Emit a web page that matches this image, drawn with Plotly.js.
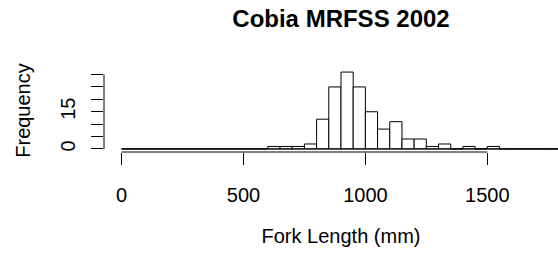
<!DOCTYPE html>
<html>
<head>
<meta charset="utf-8">
<script src="https://cdn.plot.ly/plotly-3.0.1.min.js"></script>
<style>
html, body { margin: 0; padding: 0; overflow: hidden; background: #ffffff; }
#chart { width: 578px; height: 257px; }
</style>
</head>
<body>
<div id="chart"></div>
<script>
// Histogram of Cobia fork lengths (MRFSS 2002), bins of 50 mm
const breaks = [0, 50, 100, 150, 200, 250, 300, 350, 400, 450, 500, 550, 600, 650, 700, 750,
                800, 850, 900, 950, 1000, 1050, 1100, 1150, 1200, 1250, 1300, 1350, 1400,
                1450, 1500, 1550, 1600, 1650, 1700, 1750, 1800];
const counts = [0, 0, 0, 0, 0, 0, 0, 0, 0, 0, 0, 0, 1, 1, 1, 2,
                12, 25, 31, 25, 15, 8, 11, 4, 4, 1, 2, 0, 1,
                0, 1, 0, 0, 0, 0, 0];
const xTickVals = [0, 500, 1000, 1500];
const xTickText = ["0", "500", "1000", "1500"];
const yTickVals = [0, 5, 10, 15, 20, 25, 30];
const yTickText = ["0", "", "", "15", "", "", ""];
const titleText = "Cobia MRFSS 2002";
const xTitle = "Fork Length (mm)";
const yTitle = "Frequency";

const mids = [], widths = [];
for (let i = 0; i < counts.length; i++) {
  mids.push((breaks[i] + breaks[i + 1]) / 2);
  widths.push(breaks[i + 1] - breaks[i]);
}
const xMin = breaks[0], xMax = breaks[breaks.length - 1];
const yMax = Math.max(...counts);
const xPad = 0.04 * (xMax - xMin), yPad = 0.04 * yMax;

const font = { family: "Liberation Sans, Arial, sans-serif", size: 20, color: "#000000" };

const traces = [
  {
    type: "scatter", mode: "lines",
    x: [xMin, xMax], y: [0, 0],
    line: { color: "#000000", width: 1 },
    hoverinfo: "skip", showlegend: false
  },
  {
    type: "bar",
    x: mids, y: counts, width: widths,
    marker: { color: "#ffffff", line: { color: "#000000", width: 1 } },
    showlegend: false
  }
];

const layout = {
  width: 578, height: 257,
  margin: { l: 104, r: 0, t: 69, b: 105, pad: 0 },
  paper_bgcolor: "#ffffff", plot_bgcolor: "#ffffff",
  font: font,
  showlegend: false,
  bargap: 0,
  title: {
    text: titleText,
    font: { family: font.family, size: 24, color: "#000000", weight: "bold" },
    xref: "paper", x: 0.5, xanchor: "center",
    yref: "container", y: 1 - 19 / 257, yanchor: "middle"
  },
  xaxis: {
    range: [xMin - xPad, xMax + xPad],
    tickvals: xTickVals, ticktext: xTickText,
    ticks: "outside", ticklen: 12, tickwidth: 1, tickcolor: "#000000",
    ticklabelstandoff: 13,
    showline: false, showgrid: false, zeroline: false,
    tickfont: font,
    title: { text: xTitle, font: font, standoff: 23 }
  },
  yaxis: {
    range: [-yPad, yMax + yPad],
    tickvals: yTickVals, ticktext: yTickText,
    ticks: "outside", ticklen: 12, tickwidth: 1, tickcolor: "#000000",
    tickangle: -90,
    ticklabelstandoff: 8,
    showline: false, showgrid: false, zeroline: false,
    tickfont: font,
    title: { text: yTitle, font: font, standoff: 21 }
  },
  shapes: [
    { type: "line", xref: "x", yref: "paper",
      x0: xTickVals[0], x1: xTickVals[xTickVals.length - 1], y0: 0, y1: 0,
      line: { color: "#000000", width: 1 } },
    { type: "line", xref: "paper", yref: "y",
      x0: 0, x1: 0, y0: yTickVals[0], y1: yTickVals[yTickVals.length - 1],
      line: { color: "#000000", width: 1 } }
  ]
};

Plotly.newPlot("chart", traces, layout, { displayModeBar: false, staticPlot: true });
</script>
</body>
</html>
